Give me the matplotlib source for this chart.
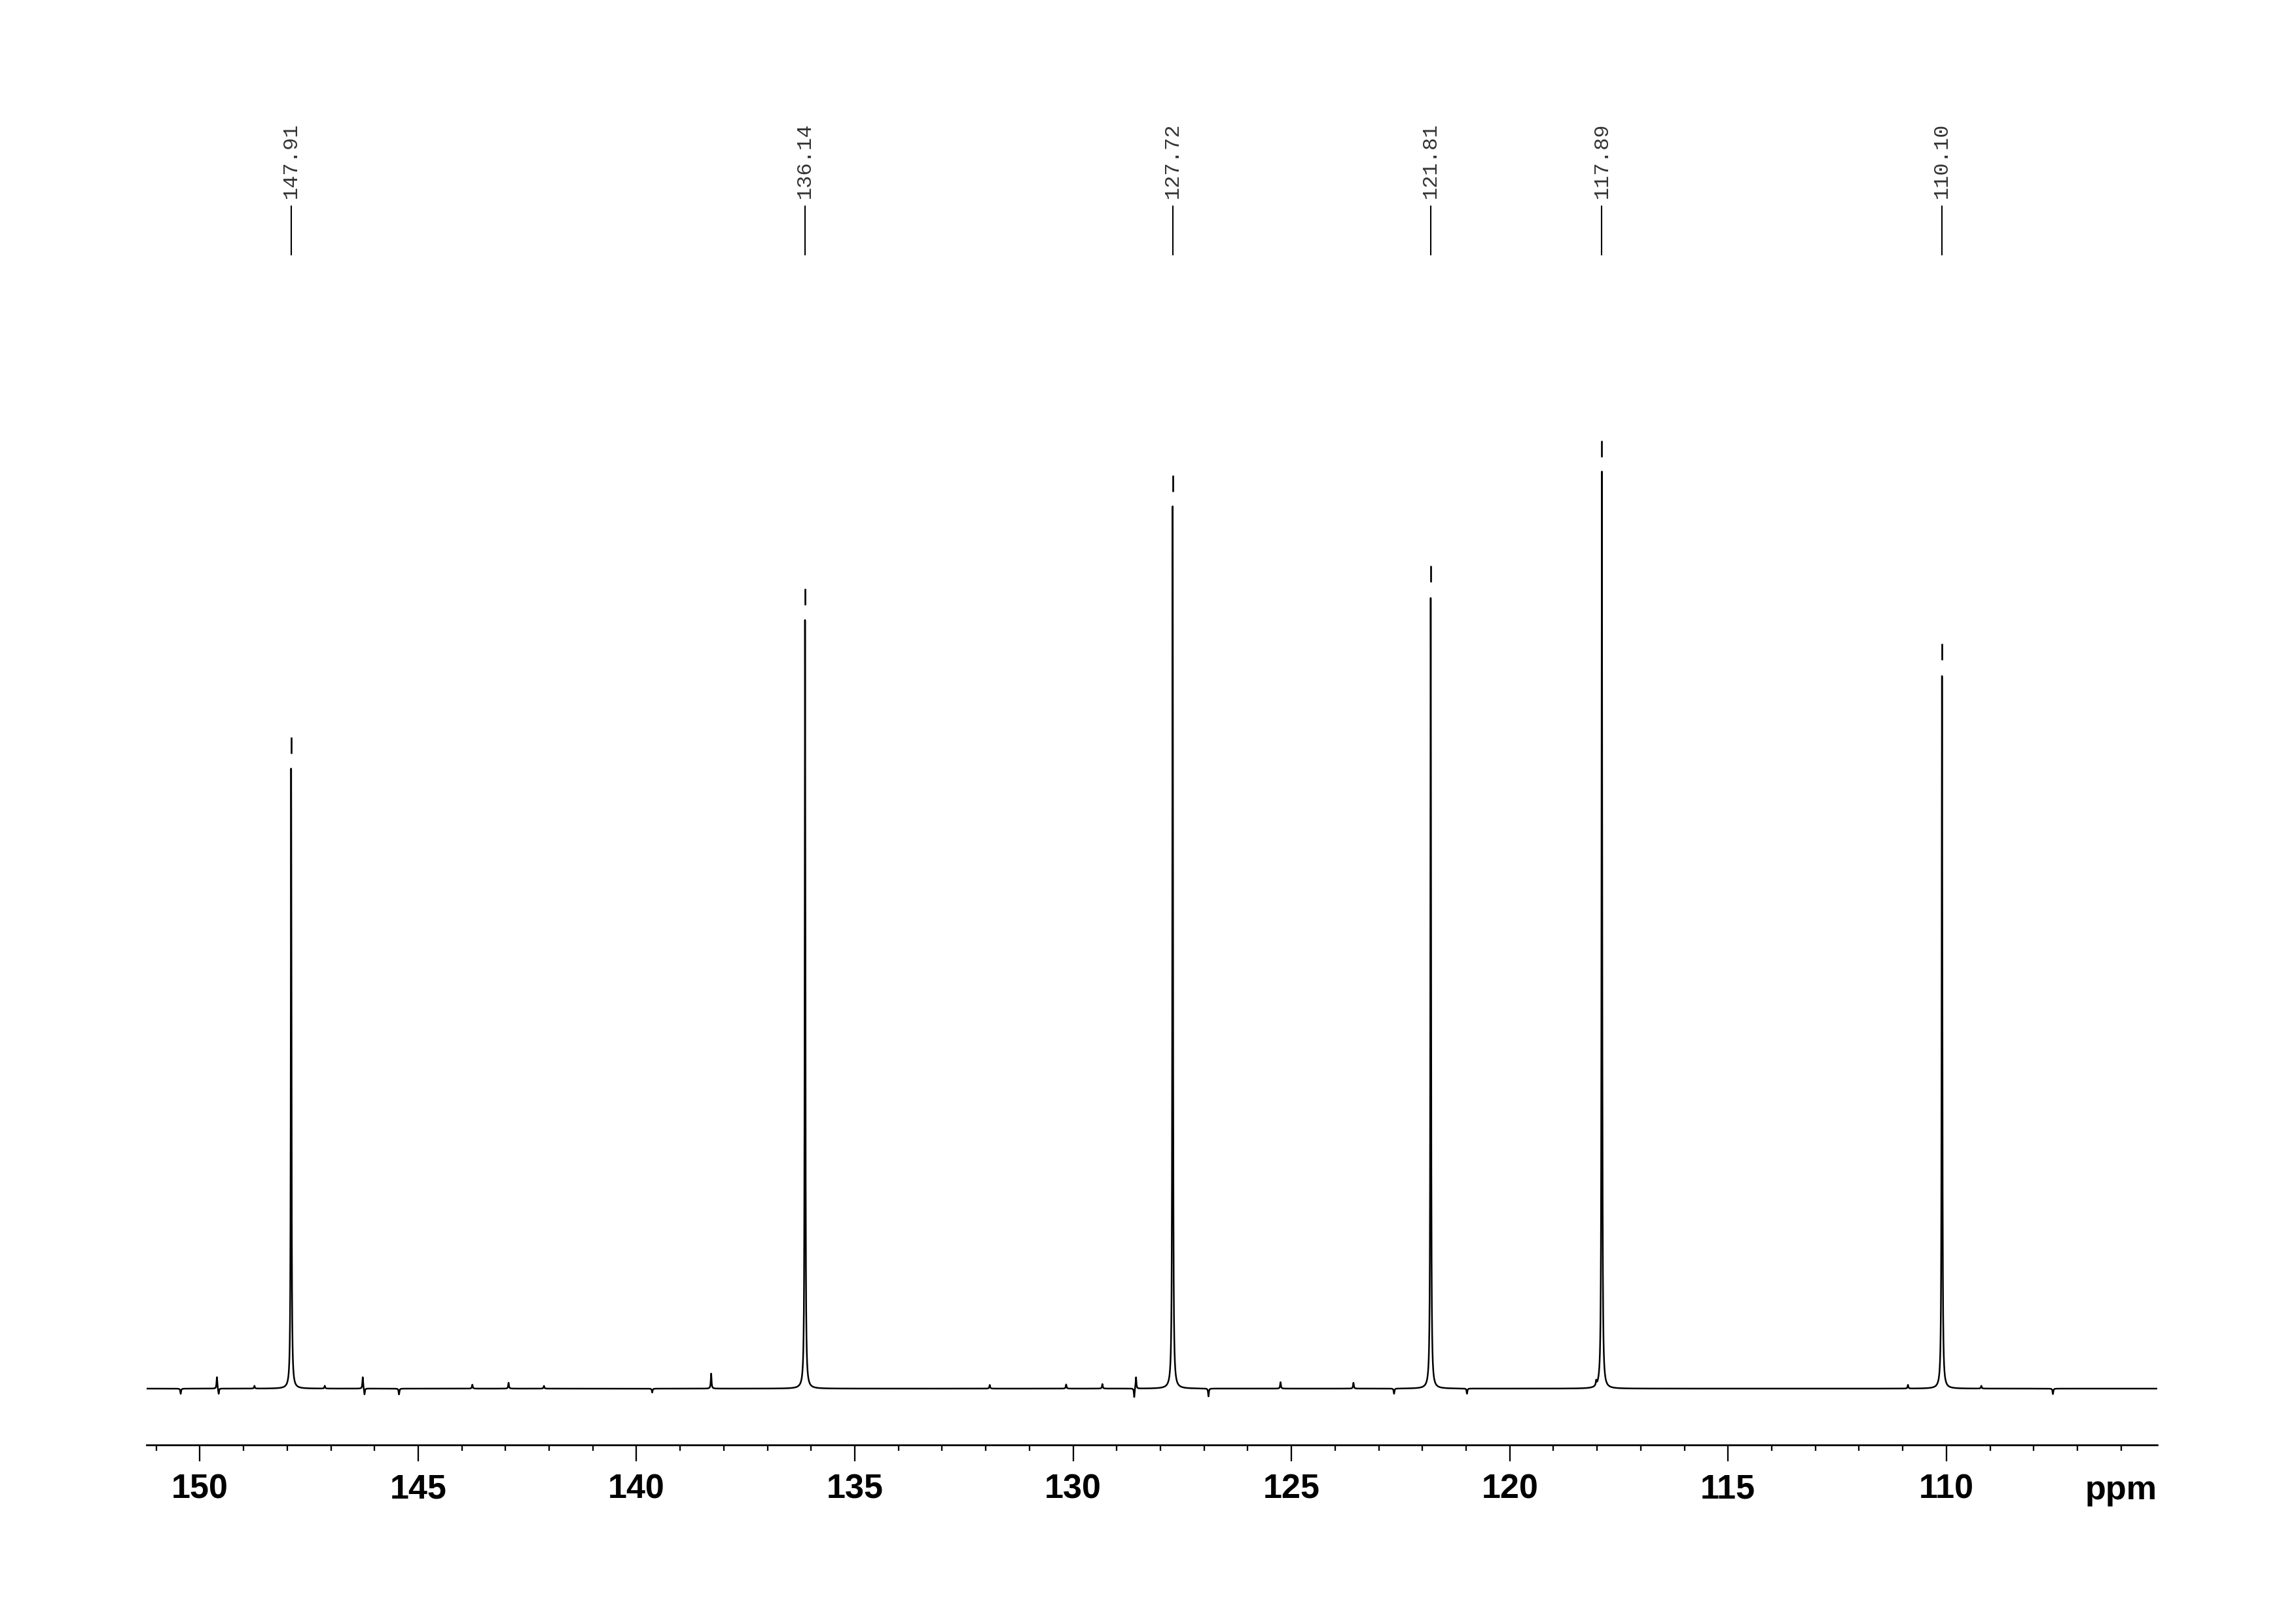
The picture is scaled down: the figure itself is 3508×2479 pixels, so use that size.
import numpy as np
import matplotlib
matplotlib.use("Agg")
import matplotlib.pyplot as plt
from matplotlib.ticker import MultipleLocator

plt.rcParams["font.family"] = ["Liberation Sans", "DejaVu Sans"]
plt.rcParams["font.weight"] = "bold"

# picked peaks (ppm) and heights in % of the tallest line
peak_ppm = [147.91, 136.14, 127.72, 121.81, 117.89, 110.10]
peak_height = [67.7, 83.9, 96.2, 86.4, 100.0, 77.9]
peak_labels = ["147.91", "136.14", "127.72", "121.81", "117.89", "110.10"]

# small bumps / dips on the baseline
small_ppm = [150.44, 149.61, 149.57, 148.75, 147.14, 146.27, 146.23, 145.44,
             143.76, 142.93, 142.12, 139.64, 138.29, 131.91, 130.16, 129.33,
             128.56, 128.60, 126.90, 125.25, 123.58, 122.65, 120.98, 118.02,
             110.88, 109.20, 107.56]
small_height = [-0.57, 1.28, -0.64, 0.30, 0.30, 1.28, -0.70, -0.64,
                0.43, 0.64, 0.30, -0.43, 1.64, 0.40, 0.45, 0.50,
                1.28, -1.00, -0.86, 0.70, 0.64, -0.57, -0.57, 0.50,
                0.40, 0.30, -0.60]

xmin, xmax = 151.22, 105.17
x = np.linspace(xmin, xmax, 46000)


def lorentz(x0, h, w):
    return h * w ** 2 / ((x - x0) ** 2 + w ** 2)


y = np.zeros_like(x)
for p, h in zip(peak_ppm, peak_height):
    y += lorentz(p, h, 0.009)
for p, h in zip(small_ppm, small_height):
    y += lorentz(p, h, 0.01)

W, H = 3508, 2479
fig = plt.figure(figsize=(W / 300, H / 300), dpi=300)
ax = fig.add_axes([224 / W, 1 - 2207 / H, (3296 - 224) / W, (2207 - 150) / H])

ax.plot(x, y, color="black", lw=0.6)

# peak markers just above each line
ph = np.array(peak_height)
ax.vlines(peak_ppm, ph + 1.57, ph + 3.35, color="black", lw=0.65)

# peak labels at top
ax.vlines(peak_ppm, 123.6, 129.0, color="black", lw=0.5)
for p, lab in zip(peak_ppm, peak_labels):
    ax.text(p, 129.8, lab, rotation=90, ha="center", va="bottom",
            family="Liberation Mono", fontweight="normal", fontsize=7.7,
            color="#333333")

ax.set_xlim(xmin, xmax)
ax.set_ylim(-6.14, 140.7)

for s in ["left", "right", "top"]:
    ax.spines[s].set_visible(False)
ax.spines["bottom"].set_linewidth(0.65)
ax.set_yticks([])
ax.xaxis.set_major_locator(MultipleLocator(5))
ax.xaxis.set_minor_locator(MultipleLocator(1))
ax.tick_params(axis="x", which="major", length=6, width=0.55, pad=4.5,
               labelsize=12.5, direction="out")
ax.tick_params(axis="x", which="minor", length=2.2, width=0.55, direction="out")

ax.text(1.0, -0.0404, "ppm", transform=ax.transAxes, ha="right",
        va="baseline", fontsize=12.5, fontweight="bold")

fig.savefig("out.png", dpi=300)
